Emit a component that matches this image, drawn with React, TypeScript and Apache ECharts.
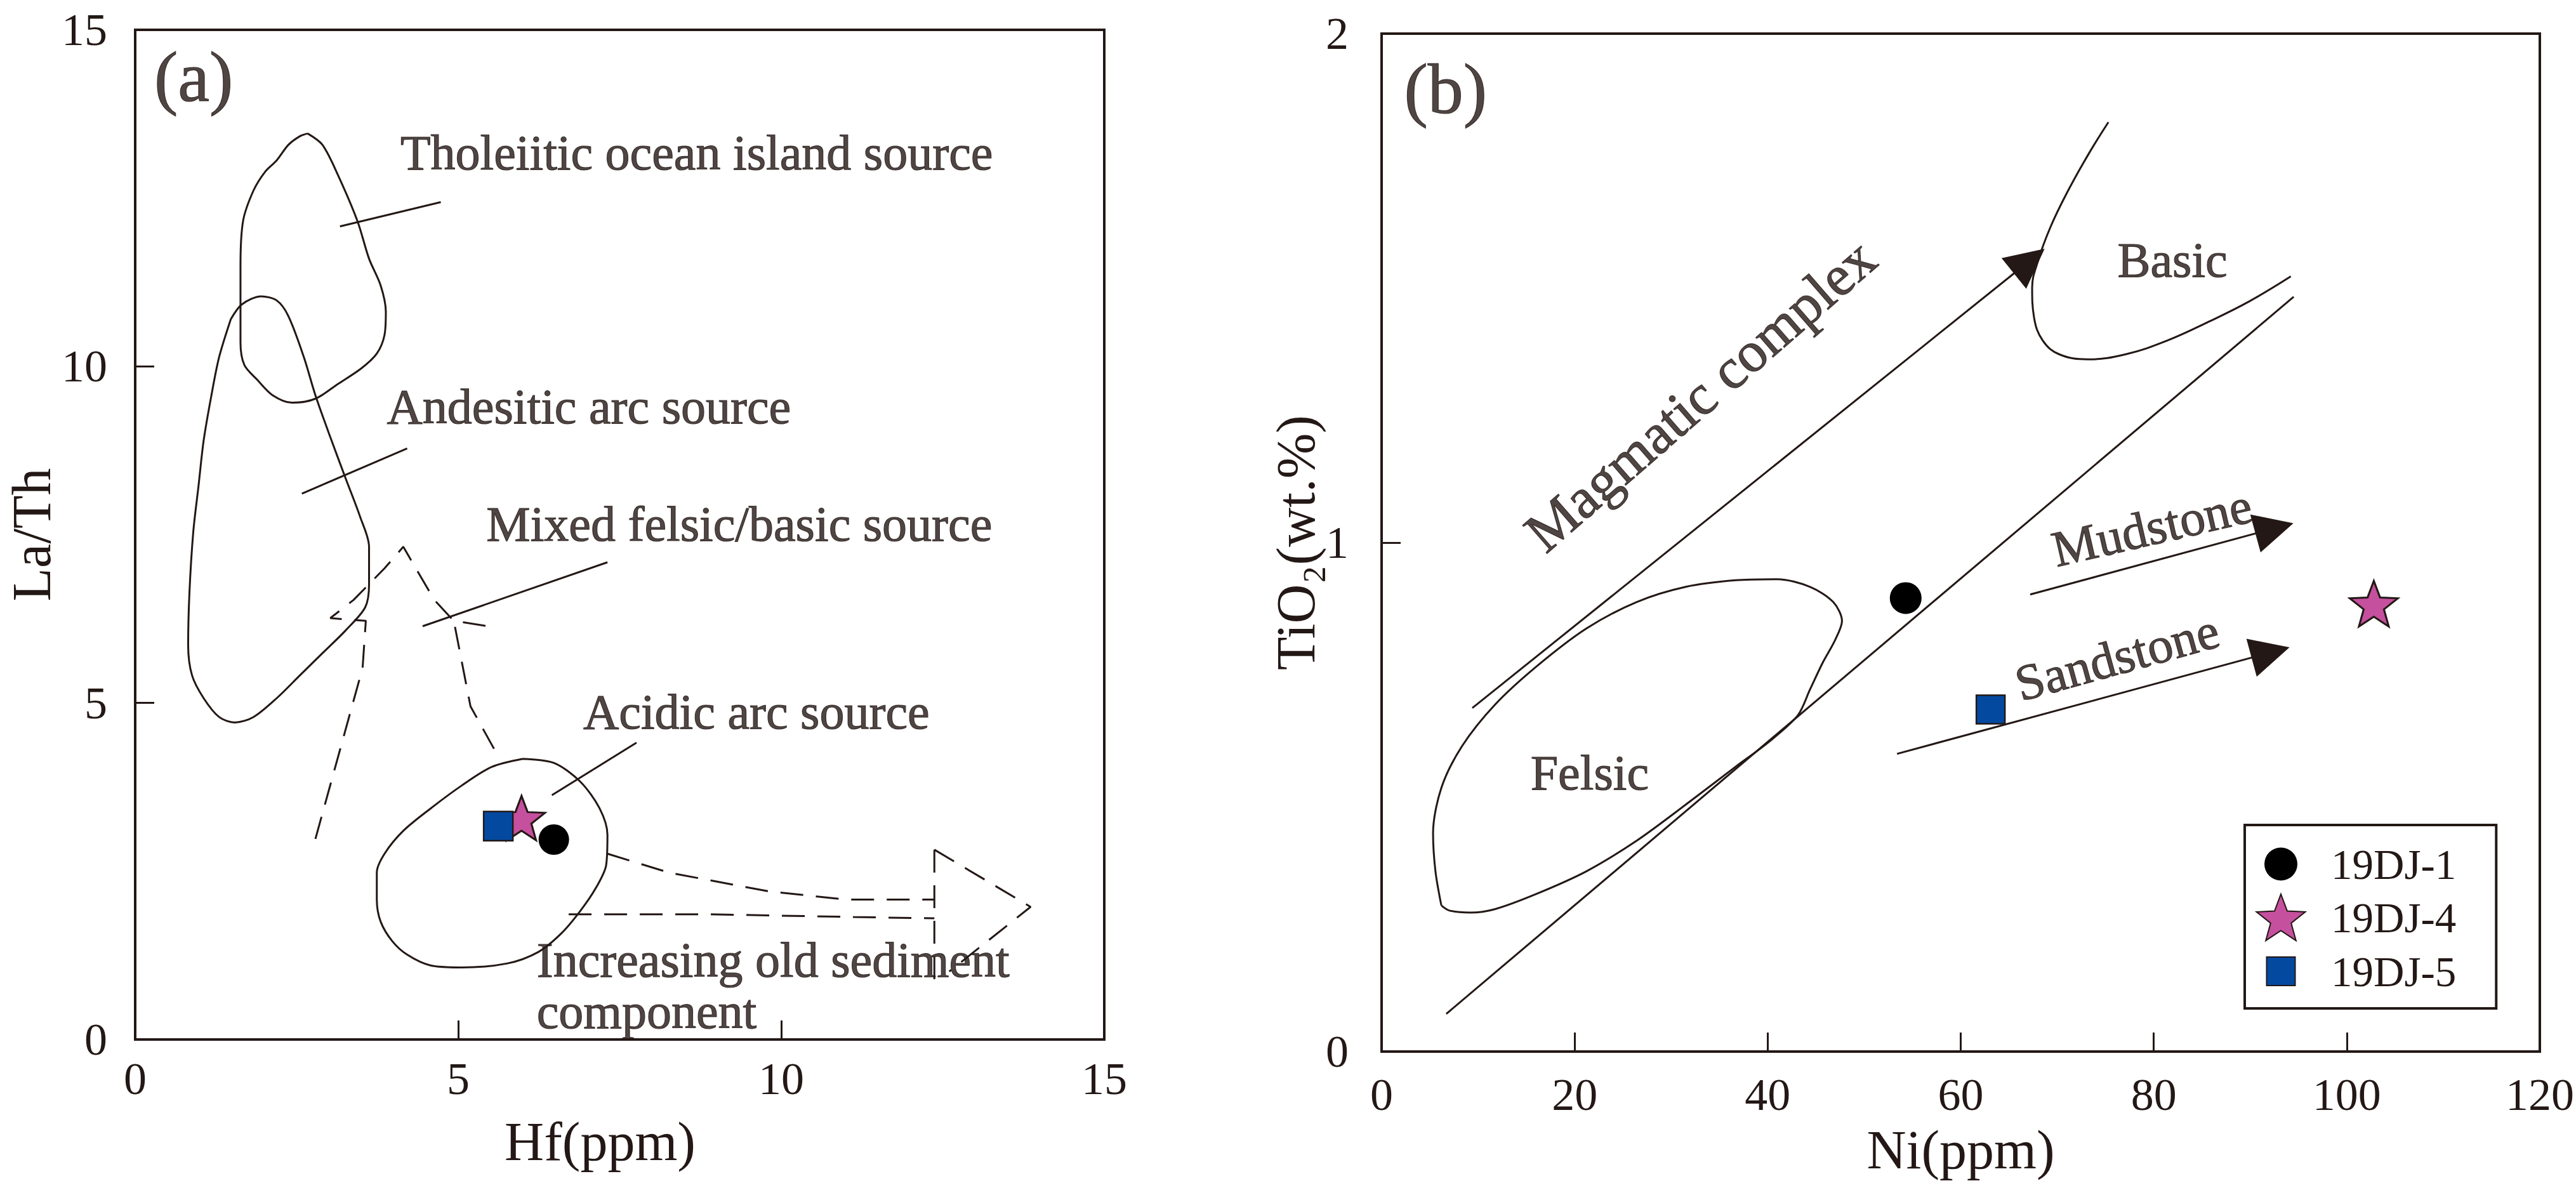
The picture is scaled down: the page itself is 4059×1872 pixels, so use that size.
import React, { useEffect, useRef } from 'react';
import * as echarts from 'echarts';

type Pt = [number, number];

const INK = '#231815';
const FONT = '"Liberation Serif", "Times New Roman", serif';

// ---------- axes ----------
const hfTicks = [0, 5, 10, 15];
const laThTicks = [0, 5, 10, 15];
const niTicks = [0, 20, 40, 60, 80, 100, 120];
const tio2Ticks = [0, 1, 2];

// ---------- samples ----------
const sampleNames = ['19DJ-1', '19DJ-4', '19DJ-5'];
const hfValues = [6.48, 5.98, 5.62];
const laThValues = [2.97, 3.29, 3.17];
const niValues = [54.3, 102.8, 63.1];
const tio2Values = [0.891, 0.88, 0.672];

// ---------- panel (a) fields ----------
const tholeiiticField: Pt[] = [
  [2.67, 13.46], [2.9, 13.29], [3.14, 12.84], [3.44, 12.16], [3.62, 11.6], [3.8, 11.2], [3.88, 10.81],
  [3.86, 10.47], [3.74, 10.19], [3.5, 9.97], [3.14, 9.74], [2.79, 9.52], [2.43, 9.46], [2.13, 9.57],
  [1.89, 9.8], [1.69, 10.02], [1.63, 10.36], [1.63, 11.49], [1.67, 12.16], [1.83, 12.61], [2.01, 12.89],
  [2.19, 13.06], [2.37, 13.29], [2.55, 13.42], [2.67, 13.46],
];
const andesiticField: Pt[] = [
  [1.48, 10.7], [1.65, 10.92], [1.95, 11.04], [2.19, 10.98], [2.37, 10.75], [2.61, 10.14], [2.79, 9.57],
  [3.02, 8.95], [3.26, 8.33], [3.48, 7.77], [3.62, 7.32], [3.62, 6.76], [3.56, 6.42], [3.26, 6.08],
  [2.9, 5.74], [2.55, 5.41], [2.19, 5.07], [1.83, 4.79], [1.54, 4.71], [1.3, 4.79], [1.06, 5.07],
  [0.88, 5.41], [0.82, 5.86], [0.84, 6.64], [0.9, 7.55], [0.98, 8.22], [1.06, 8.9], [1.18, 9.57],
  [1.3, 10.14], [1.48, 10.7],
];
const acidicField: Pt[] = [
  [6.0, 4.17], [6.48, 4.11], [6.89, 3.83], [7.19, 3.43], [7.31, 3.04], [7.29, 2.59], [7.13, 2.25],
  [6.89, 1.91], [6.6, 1.58], [6.24, 1.3], [5.76, 1.13], [5.05, 1.07], [4.57, 1.1], [4.21, 1.26],
  [3.98, 1.46], [3.8, 1.75], [3.74, 2.08], [3.74, 2.48], [3.86, 2.76], [4.15, 3.1], [4.57, 3.43],
  [5.05, 3.77], [5.52, 4.05], [6.0, 4.17],
];
const mixedFieldLeft: Pt[] = [
  [2.79, 2.98], [3.52, 5.52], [3.57, 6.22], [3.02, 6.26], [3.38, 6.53], [3.86, 7.0], [4.15, 7.32],
  [4.63, 6.53], [4.93, 6.22], [5.52, 6.13],
];
const mixedFieldRight: Pt[] = [[4.95, 6.13], [5.19, 4.95], [5.64, 4.17]];
const sedimentUpper: Pt[] = [[7.31, 2.76], [8.26, 2.48], [9.81, 2.2], [11.0, 2.08], [12.37, 2.08]];
const sedimentLower: Pt[] = [[6.71, 1.86], [8.86, 1.86], [11.12, 1.82], [12.37, 1.8]];
const sedimentBar: Pt[] = [[12.37, 2.82], [12.37, 0.79]];
const sedimentHead: Pt[] = [[12.37, 2.82], [13.86, 1.97], [12.6, 1.01]];

const pointerTholeiitic: Pt[] = [[3.17, 12.08], [4.73, 12.44]];
const pointerAndesitic: Pt[] = [[2.58, 8.11], [4.21, 8.78]];
const pointerMixed: Pt[] = [[4.45, 6.14], [7.31, 7.09]];
const pointerAcidic: Pt[] = [[6.45, 3.63], [7.76, 4.41]];

const labelTextsA = [
  'Tholeiitic ocean island source',
  'Andesitic arc source',
  'Mixed felsic/basic source',
  'Acidic arc source',
  'Increasing old sediment',
  'component',
];
const labelPosA: Pt[] = [[4.1, 13.18], [3.89, 9.4], [5.43, 7.66], [6.93, 4.87], [6.21, 1.18], [6.21, 0.42]];

// ---------- panel (b) fields ----------
const felsicField: Pt[] = [
  [6.19, 0.287], [5.58, 0.354], [5.33, 0.429], [6.19, 0.518], [8.33, 0.6], [11.77, 0.682], [16.07, 0.757],
  [21.2, 0.831], [26.4, 0.883], [31.5, 0.913], [36.7, 0.926], [41.0, 0.928], [44.4, 0.913], [46.8, 0.883],
  [47.7, 0.846], [47.0, 0.809], [45.7, 0.764], [44.4, 0.712], [43.1, 0.66], [40.1, 0.608], [36.7, 0.56],
  [31.5, 0.485], [26.4, 0.414], [21.2, 0.354], [16.07, 0.31], [11.77, 0.28], [9.19, 0.273], [7.04, 0.277],
  [6.19, 0.287],
];
const basicCurve: Pt[] = [
  [75.3, 1.826], [73.2, 1.762], [71.0, 1.687], [69.3, 1.62], [68.0, 1.553], [67.4, 1.501], [67.6, 1.442],
  [68.5, 1.397], [70.2, 1.37], [73.2, 1.36], [77.1, 1.37], [81.4, 1.397], [85.7, 1.434], [89.9, 1.474],
  [94.2, 1.523],
];
const lowerBoundary: Pt[] = [[6.7, 0.074], [94.5, 1.483]];
const magmaticArrow: Pt[] = [[9.4, 0.675], [67.1, 1.553]];
const mudstoneArrow: Pt[] = [[67.2, 0.898], [92.5, 1.028]];
const sandstoneArrow: Pt[] = [[53.4, 0.585], [92.1, 0.784]];

const labelTextsB = ['Basic', 'Felsic'];
const labelPosB: Pt[] = [[76.2, 1.556], [15.4, 0.548]];
const rotatedTextsB = ['Magmatic complex', 'Mudstone', 'Sandstone'];
const rotatedPosB: Pt[] = [[33.0, 1.29], [79.8, 1.03], [76.2, 0.775]];
const rotatedAnglesB = [41, 13, 15.5];
const rotatedSizesB = [90, 80, 80];

// ---------- symbols ----------
const STAR = 'path://M50 0 L62.34 33.01 L97.55 34.55 L69.97 56.49 L79.39 90.45 L50 71 L20.61 90.45 L30.03 56.49 L2.45 34.55 L37.66 33.01 Z';
const sampleSymbols = ['circle', STAR, 'rect'];
const sampleSizesA: any[] = [48, [74, 70], 46];
const sampleSizesB: any[] = [50, [76, 72], 45];
const sampleColors = ['#000000', '#c5509e', '#0449a0'];
const sampleBorderWidths = [0, 3, 2.5];

const legendIcons = [
  'path://M0 0 M114 75 M66 37.5 A26 26 0 1 1 14 37.5 A26 26 0 1 1 66 37.5 Z',
  'path://M0 0 M114 75 M40 0.9 L50 27.6 L78.5 28.9 L56.2 46.6 L63.8 74.2 L40 58.4 L16.2 74.2 L23.8 46.6 L1.5 28.9 L30 27.6 Z',
  'path://M0 0 M114 75 M17.5 15 L62.5 15 L62.5 60 L17.5 60 Z',
];

function axisRange(ticks: number[]) {
  return { min: ticks[0], max: ticks[ticks.length - 1], interval: ticks[1] - ticks[0] };
}

function lineSeries(data: Pt[], grid: number, opts: any = {}) {
  return {
    type: 'line',
    xAxisIndex: grid,
    yAxisIndex: grid,
    data,
    showSymbol: false,
    symbol: 'none',
    silent: true,
    smooth: opts.smooth ?? false,
    lineStyle: { color: INK, width: 3, type: opts.dashed ? [36, 20] : 'solid' },
    z: 2,
  };
}

function textSeries(names: string[], pos: Pt[], grid: number, fontSize: number | number[], rotations?: number[]) {
  return {
    type: 'scatter',
    xAxisIndex: grid,
    yAxisIndex: grid,
    symbolSize: 1,
    silent: true,
    itemStyle: { color: 'rgba(0,0,0,0)' },
    z: 4,
    data: names.map((n, i) => ({
      name: n,
      value: pos[i],
      label: {
        fontSize: Array.isArray(fontSize) ? fontSize[i] : fontSize,
        ...(rotations
          ? { position: 'inside', rotate: rotations[i], align: 'center', verticalAlign: 'middle' }
          : { position: 'right', distance: 0 }),
      },
    })),
    label: {
      show: true,
      formatter: '{b}',
      fontFamily: FONT,
      color: INK,
      textBorderColor: INK,
      textBorderWidth: 1.2,
    },
  };
}

function valueAxis(ticks: number[], grid: number, opts: any) {
  return {
    type: 'value',
    gridIndex: grid,
    ...axisRange(ticks),
    axisLine: { show: false },
    splitLine: { show: false },
    axisTick: { show: true, inside: true, length: 30, lineStyle: { color: INK, width: 3 } },
    axisLabel: { margin: opts.margin, fontFamily: FONT, fontSize: 72, color: INK },
    name: opts.name,
    nameLocation: 'middle',
    nameGap: opts.nameGap,
    nameTextStyle: { fontFamily: FONT, fontSize: 86, color: INK, padding: opts.namePadding ?? 0 },
  };
}

function buildOption(): any {
  const series: any[] = [
    // panel (a)
    lineSeries(tholeiiticField, 0, { smooth: 0.3 }),
    lineSeries(andesiticField, 0, { smooth: 0.3 }),
    lineSeries(acidicField, 0, { smooth: 0.3 }),
    lineSeries(mixedFieldLeft, 0, { dashed: true }),
    lineSeries(mixedFieldRight, 0, { dashed: true }),
    lineSeries(sedimentUpper, 0, { dashed: true }),
    lineSeries(sedimentLower, 0, { dashed: true }),
    lineSeries(sedimentBar, 0, { dashed: true }),
    lineSeries(sedimentHead, 0, { dashed: true }),
    lineSeries(pointerTholeiitic, 0),
    lineSeries(pointerAndesitic, 0),
    lineSeries(pointerMixed, 0),
    lineSeries(pointerAcidic, 0),
    textSeries(labelTextsA, labelPosA, 0, 78),
    textSeries(['(a)'], [[0.29, 14.3]], 0, 112),
    // panel (b)
    lineSeries(felsicField, 1, { smooth: 0.3 }),
    lineSeries(basicCurve, 1, { smooth: 0.4 }),
    lineSeries(lowerBoundary, 1),
    {
      type: 'lines',
      coordinateSystem: 'cartesian2d',
      xAxisIndex: 1,
      yAxisIndex: 1,
      silent: true,
      symbol: ['none', 'triangle'],
      symbolSize: 62,
      lineStyle: { color: INK, width: 3, opacity: 1 },
      data: [{ coords: magmaticArrow }, { coords: mudstoneArrow }, { coords: sandstoneArrow }],
      z: 3,
    },
    textSeries(labelTextsB, labelPosB, 1, 78),
    textSeries(rotatedTextsB, rotatedPosB, 1, rotatedSizesB, rotatedAnglesB),
    textSeries(['(b)'], [[2.3, 1.891]], 1, 112),
  ];

  sampleNames.forEach((name, i) => {
    const common = {
      type: 'scatter',
      name,
      symbol: sampleSymbols[i],
      itemStyle: { color: sampleColors[i], borderColor: INK, borderWidth: sampleBorderWidths[i], opacity: 1 },
      z: 6,
      silent: true,
    };
    series.push({ ...common, xAxisIndex: 0, yAxisIndex: 0, symbolSize: sampleSizesA[i], data: [[hfValues[i], laThValues[i]]] });
    series.push({ ...common, xAxisIndex: 1, yAxisIndex: 1, symbolSize: sampleSizesB[i], data: [[niValues[i], tio2Values[i]]] });
  });

  return {
    animation: false,
    backgroundColor: '#ffffff',
    textStyle: { fontFamily: FONT },
    grid: [
      { left: 213, top: 47, width: 1527, height: 1591, show: true, borderColor: INK, borderWidth: 4, backgroundColor: 'transparent' },
      { left: 2177, top: 53, width: 1832, height: 1604, show: true, borderColor: INK, borderWidth: 4, backgroundColor: 'transparent' },
    ],
    xAxis: [
      valueAxis(hfTicks, 0, { margin: 26, name: 'Hf(ppm)', nameGap: 118, namePadding: [0, 62, 0, 0] }),
      valueAxis(niTicks, 1, { margin: 32, name: 'Ni(ppm)', nameGap: 112 }),
    ],
    yAxis: [
      valueAxis(laThTicks, 0, { margin: 44, name: 'La/Th', nameGap: 108 }),
      valueAxis(tio2Ticks, 1, { margin: 52, name: 'TiO₂(wt.%)', nameGap: 92 }),
    ],
    legend: {
      show: true,
      orient: 'vertical',
      left: 3537,
      top: 1300,
      padding: [24, 63, 20, 16],
      itemGap: 8,
      itemWidth: 114,
      itemHeight: 75,
      borderColor: INK,
      borderWidth: 4,
      selectedMode: false,
      textStyle: { fontFamily: FONT, fontSize: 67, color: INK },
      data: sampleNames.map((n, i) => ({ name: n, icon: legendIcons[i] })),
    },
    series,
  };
}

export default function App() {
  const ref = useRef<HTMLDivElement>(null);
  useEffect(() => {
    const chart = echarts.init(ref.current as HTMLDivElement, undefined, { renderer: 'svg' });
    chart.setOption(buildOption());
    return () => chart.dispose();
  }, []);
  return (
    <div
      ref={ref}
      style={{ position: 'absolute', left: 0, top: 0, width: 4059, height: 1872, background: '#ffffff' }}
    />
  );
}
